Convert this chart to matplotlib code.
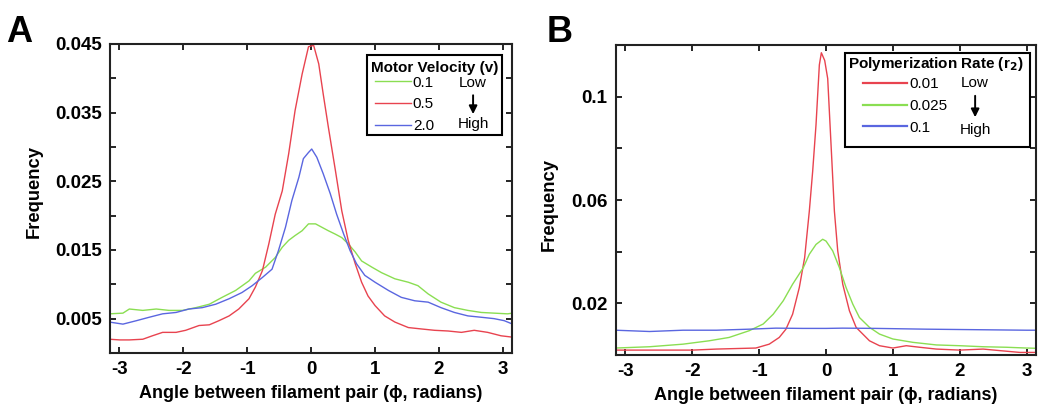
import numpy as np
import matplotlib
matplotlib.use('Agg')
import matplotlib.pyplot as plt
from matplotlib.patches import Rectangle

plt.rcParams['font.family'] = ['Liberation Sans', 'DejaVu Sans']

# panel A: motor velocity
a_red_x = [-3.15, -2.99, -2.84, -2.63, -2.48, -2.32, -2.11, -1.96, -1.75, -1.59, -1.44, -1.28, -1.13, -0.97,
           -0.87, -0.76, -0.66, -0.56, -0.45, -0.35, -0.25, -0.14, -0.04, 0.04, 0.12, 0.19, 0.27, 0.38, 0.48,
           0.58, 0.69, 0.79, 0.89, 1.00, 1.15, 1.31, 1.52, 1.72, 1.93, 2.14, 2.35, 2.55, 2.76, 2.97, 3.15]
a_red_y = [0.0020, 0.0019, 0.0019, 0.0020, 0.0025, 0.0030, 0.0030, 0.0033, 0.0040, 0.0041, 0.0047, 0.0054,
           0.0064, 0.0079, 0.0096, 0.0120, 0.0159, 0.0202, 0.0236, 0.0290, 0.0353, 0.0406, 0.0446, 0.0448,
           0.0421, 0.0377, 0.0329, 0.0266, 0.0207, 0.0164, 0.0130, 0.0103, 0.0083, 0.0069, 0.0054, 0.0045,
           0.0037, 0.0035, 0.0033, 0.0032, 0.0030, 0.0033, 0.0030, 0.0025, 0.0023]

a_blue_x = [-3.15, -2.94, -2.73, -2.53, -2.32, -2.11, -1.91, -1.70, -1.49, -1.28, -1.08, -0.92, -0.76, -0.61,
            -0.51, -0.40, -0.30, -0.19, -0.12, -0.04, 0.01, 0.09, 0.19, 0.30, 0.40, 0.51, 0.61, 0.71, 0.84,
            1.00, 1.21, 1.41, 1.62, 1.83, 2.03, 2.24, 2.45, 2.66, 2.86, 3.02, 3.15]
a_blue_y = [0.0045, 0.0042, 0.0047, 0.0052, 0.0057, 0.0059, 0.0064, 0.0066, 0.0071, 0.0079, 0.0088, 0.0098,
            0.0110, 0.0122, 0.0149, 0.0183, 0.0222, 0.0256, 0.0283, 0.0292, 0.0297, 0.0285, 0.0261, 0.0232,
            0.0202, 0.0173, 0.0149, 0.0130, 0.0113, 0.0103, 0.0091, 0.0081, 0.0076, 0.0074, 0.0066, 0.0059,
            0.0054, 0.0052, 0.0050, 0.0047, 0.0042]

a_green_x = [-3.15, -2.94, -2.84, -2.63, -2.42, -2.22, -2.01, -1.80, -1.59, -1.39, -1.18, -0.97, -0.87, -0.71,
             -0.56, -0.45, -0.35, -0.25, -0.14, -0.04, 0.07, 0.17, 0.27, 0.38, 0.48, 0.58, 0.69, 0.79, 0.95,
             1.10, 1.31, 1.52, 1.67, 1.83, 2.03, 2.24, 2.45, 2.66, 2.86, 3.07, 3.15]
a_green_y = [0.0057, 0.0058, 0.0064, 0.0062, 0.0064, 0.0062, 0.0062, 0.0066, 0.0071, 0.0081, 0.0091, 0.0105,
             0.0116, 0.0125, 0.0139, 0.0154, 0.0164, 0.0171, 0.0178, 0.0188, 0.0188, 0.0183, 0.0178, 0.0173,
             0.0168, 0.0159, 0.0147, 0.0134, 0.0125, 0.0117, 0.0108, 0.0103, 0.0098, 0.0086, 0.0074, 0.0066,
             0.0062, 0.0059, 0.0058, 0.0057, 0.0058]

# panel B: polymerization rate
b_red_x = [-3.15, -2.5, -2.0, -1.64, -1.05, -0.85, -0.70, -0.60, -0.50, -0.40, -0.32, -0.25, -0.20, -0.15,
           -0.10, -0.07, -0.02, 0.025, 0.075, 0.125, 0.175, 0.25, 0.35, 0.45, 0.55, 0.65, 0.8, 1.0, 1.2, 1.4,
           1.65, 2.0, 2.35, 2.6, 2.9, 3.15]
b_red_y = [0.0019, 0.0019, 0.0019, 0.0023, 0.0027, 0.0042, 0.0068, 0.0100, 0.0158, 0.0261, 0.0377, 0.0557,
           0.0711, 0.0891, 0.1123, 0.1170, 0.1140, 0.1070, 0.0814, 0.0557, 0.0403, 0.0274, 0.0171, 0.0107,
           0.0081, 0.0055, 0.0036, 0.0027, 0.0036, 0.0030, 0.0023, 0.0019, 0.0023, 0.0017, 0.0010, 0.0010]

b_green_x = [-3.15, -2.64, -2.14, -1.75, -1.45, -1.15, -0.94, -0.79, -0.64, -0.50, -0.34, -0.25, -0.15, -0.05,
             0.0, 0.1, 0.2, 0.3, 0.4, 0.5, 0.65, 0.8, 1.0, 1.3, 1.65, 2.0, 2.35, 2.7, 3.0, 3.15]
b_green_y = [0.0027, 0.0032, 0.0042, 0.0055, 0.0068, 0.0094, 0.0120, 0.0158, 0.0210, 0.0274, 0.0338, 0.0390,
             0.0428, 0.0448, 0.0441, 0.0403, 0.0338, 0.0261, 0.0197, 0.0145, 0.0107, 0.0081, 0.0062, 0.0049,
             0.0039, 0.0036, 0.0032, 0.0030, 0.0027, 0.0026]

b_blue_x = [-3.15, -2.64, -2.14, -1.64, -1.15, -0.75, -0.35, 0.0, 0.25, 0.75, 1.5, 2.25, 3.0, 3.15]
b_blue_y = [0.0096, 0.0091, 0.0096, 0.0096, 0.0100, 0.0104, 0.0103, 0.0103, 0.0104, 0.0103, 0.0100, 0.0098,
            0.0096, 0.0096]

a_labels = ['0.1', '0.5', '2.0']
b_labels = ['0.01', '0.025', '0.1']
x_ticks = [-3, -2, -1, 0, 1, 2, 3]

RED = '#e8434f'
GREEN = '#8ade52'
BLUE = '#5a66e0'

fig = plt.figure(figsize=(10.5, 4.09), dpi=100)
axA = fig.add_axes([0.1048, 0.137, 0.3829, 0.7555])
axB = fig.add_axes([0.5867, 0.132, 0.400, 0.758])


def style_axis(ax, ylab_x, ylab_y):
    for sp in ax.spines.values():
        sp.set_linewidth(1.5)
        sp.set_color('#222222')
    ax.tick_params(direction='in', top=True, right=True, length=4, width=1.2,
                   labelsize=13.5, pad=6)
    for lab in ax.get_xticklabels() + ax.get_yticklabels():
        lab.set_fontweight('bold')
    ax.set_xlabel('Angle between filament pair (\u03d5, radians)', fontsize=13,
                  fontweight='bold', labelpad=5)
    ax.set_ylabel('Frequency', fontsize=13.2, fontweight='bold')
    ax.yaxis.set_label_coords(ylab_x, ylab_y)


def legend_box(ax, x0, y0, w, h, title, title_xy, low_x, low_y, high_y, arrow_top, arrow_bot,
               anchor, handlelength):
    ax.add_patch(Rectangle((x0, y0), w, h, transform=ax.transAxes, facecolor='white',
                           edgecolor='black', lw=1.5, zorder=4))
    ax.text(title_xy[0], title_xy[1], title, transform=ax.transAxes, ha='center', va='center',
            fontsize=11, fontweight='bold', zorder=6)
    leg = ax.legend(loc='center left', bbox_to_anchor=anchor, frameon=False, fontsize=11,
                    handlelength=handlelength, handletextpad=0.15, labelspacing=0.5,
                    borderpad=0, borderaxespad=0)
    leg.set_zorder(6)
    ax.text(low_x, low_y, 'Low', transform=ax.transAxes, ha='center', va='center', fontsize=11, zorder=6)
    ax.text(low_x, high_y, 'High', transform=ax.transAxes, ha='center', va='center', fontsize=11, zorder=6)
    ax.annotate('', xy=(low_x, arrow_bot), xytext=(low_x, arrow_top), xycoords='axes fraction',
                arrowprops=dict(arrowstyle='-|>', color='black', lw=1.4, mutation_scale=12), zorder=6)
    return leg


# --- A ---
axA.plot(a_green_x, a_green_y, color=GREEN, lw=1.0, label=a_labels[0])
axA.plot(a_red_x, a_red_y, color=RED, lw=1.0, label=a_labels[1])
axA.plot(a_blue_x, a_blue_y, color=BLUE, lw=1.0, label=a_labels[2])
axA.set_xlim(-np.pi, np.pi)
axA.set_ylim(0, 0.045)
axA.set_xticks(x_ticks)
axA.set_xticklabels([str(t) for t in x_ticks])
ya = np.arange(0.005, 0.0451, 0.005)
axA.set_yticks(ya)
axA.set_yticklabels(['%.3f' % v if i % 2 == 0 else '' for i, v in enumerate(ya)])
style_axis(axA, -0.167, 0.521)
legend_box(axA, 0.639, 0.706, 0.336, 0.258, 'Motor Velocity (v)', (0.808, 0.922),
           0.903, 0.874, 0.741, 0.843, 0.764, (0.660, 0.805), 2.3)

# --- B ---
axB.plot(b_red_x, b_red_y, color=RED, lw=1.0, label=b_labels[0])
axB.plot(b_green_x, b_green_y, color=GREEN, lw=1.0, label=b_labels[1])
axB.plot(b_blue_x, b_blue_y, color=BLUE, lw=1.0, label=b_labels[2])
axB.set_xlim(-np.pi, np.pi)
axB.set_ylim(0, 0.12)
axB.set_xticks(x_ticks)
axB.set_xticklabels([str(t) for t in x_ticks])
yb = [0.02, 0.04, 0.06, 0.08, 0.1]
axB.set_yticks(yb)
axB.set_yticklabels(['0.02', '', '0.06', '', '0.1'])
style_axis(axB, -0.138, 0.484)
legB = legend_box(axB, 0.545, 0.671, 0.441, 0.303, r'Polymerization Rate (r$_\mathbf{2}$)', (0.761, 0.939),
                  0.855, 0.877, 0.726, 0.845, 0.758, (0.588, 0.803), 2.9)
for h in legB.get_lines():
    h.set_linewidth(1.6)

fig.text(0.006, 0.897, 'A', fontsize=26, fontweight='bold', va='baseline')
fig.text(0.521, 0.897, 'B', fontsize=26, fontweight='bold', va='baseline')

fig.savefig('out.png', dpi=100)
